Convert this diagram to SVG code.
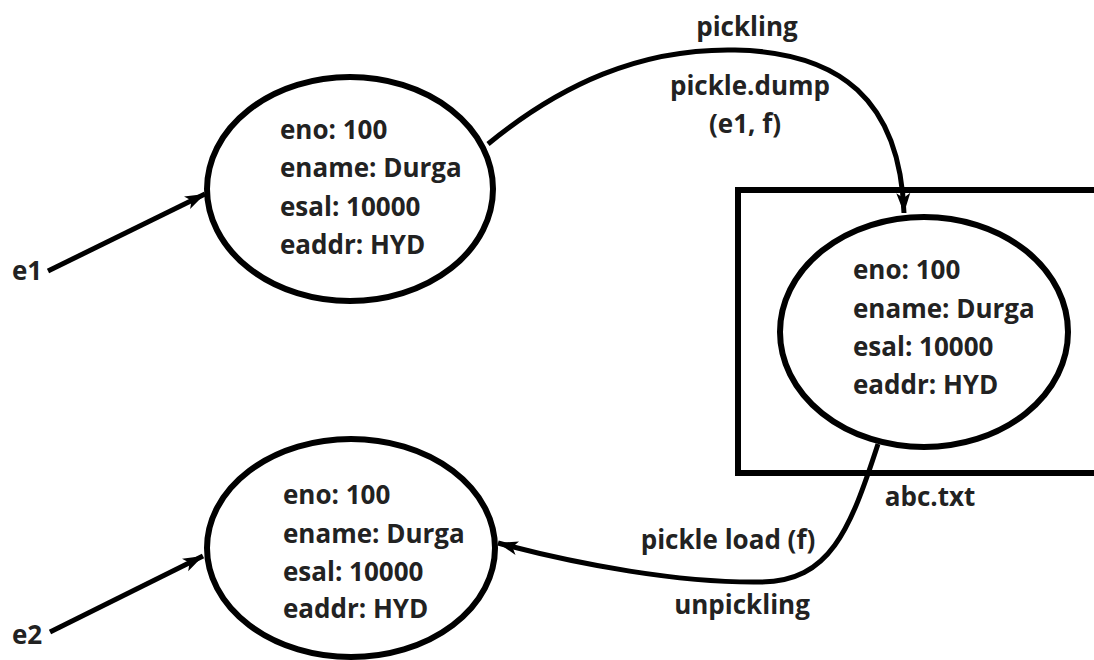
<svg xmlns="http://www.w3.org/2000/svg" width="1094" height="660" viewBox="0 0 1094 660">
<style>
.shape{fill:#fff;stroke:#000;stroke-width:6}
.box{fill:none;stroke:#000;stroke-width:6}
.conn{fill:none;stroke:#000;stroke-width:5}
text{font-family:"Open Sans","Liberation Sans",sans-serif;font-weight:700;font-size:26px;fill:#222}
.mid{text-anchor:middle}
</style>
<defs>
<marker id="arr" markerUnits="userSpaceOnUse" markerWidth="24" markerHeight="16" refX="20" refY="8" orient="auto">
<path d="M0,1 L20,8 L0,15 L5,8 z" fill="#000"/>
</marker>
</defs>
<rect width="1094" height="660" fill="#fff"/>
<g id="file-box">
<rect class="box" x="738" y="190" width="400" height="283"/>
<text x="930" y="506" class="mid">abc.txt</text>
</g>
<g id="connectors">
<path class="conn" d="M48,271 L205,194" marker-end="url(#arr)"/>
<path class="conn" d="M50,632 L203,556" marker-end="url(#arr)"/>
<path class="conn" d="M488,144 C560,85 640,48 735,50 C840,52 900,100 904,213" marker-end="url(#arr)"/>
<path class="conn" d="M878,444 C850,530 830,582 760,582 C680,583 580,565 498,543" marker-end="url(#arr)"/>
<text x="747" y="36" class="mid">pickling</text>
<text x="750" y="95" class="mid">pickle.dump</text>
<text x="745" y="133" class="mid">(e1, f)</text>
<text x="728" y="549" class="mid">pickle load (f)</text>
<text x="742" y="614" class="mid">unpickling</text>
</g>
<g id="e1">
<text x="12" y="280">e1</text>
</g>
<g id="e2">
<text x="12" y="644">e2</text>
</g>
<g id="obj-e1">
<ellipse class="shape" cx="350" cy="189" rx="143" ry="112"/>
<text x="280" y="139">eno: 100</text>
<text x="280" y="177">ename: Durga</text>
<text x="280" y="216">esal: 10000</text>
<text x="280" y="254">eaddr: HYD</text>
</g>
<g id="obj-file">
<ellipse class="shape" cx="924" cy="332" rx="144" ry="115"/>
<text x="853" y="279">eno: 100</text>
<text x="853" y="318">ename: Durga</text>
<text x="853" y="356">esal: 10000</text>
<text x="853" y="394">eaddr: HYD</text>
</g>
<g id="obj-e2">
<ellipse class="shape" cx="351" cy="548" rx="144" ry="109"/>
<text x="283" y="504">eno: 100</text>
<text x="283" y="543">ename: Durga</text>
<text x="283" y="581">esal: 10000</text>
<text x="283" y="618">eaddr: HYD</text>
</g>
</svg>
